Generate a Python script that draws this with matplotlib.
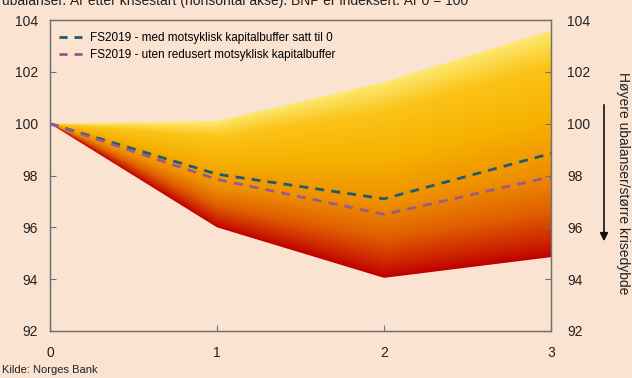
import numpy as np
import matplotlib.pyplot as plt
from matplotlib.colors import LinearSegmentedColormap

plt.rcParams['font.family'] = ['Liberation Sans', 'DejaVu Sans']

years = [0, 1, 2, 3]
fan_upper = [100.0, 100.1, 101.6, 103.6]
fan_lower = [100.0, 96.0, 94.05, 94.85]
cc_zero = [100.0, 98.05, 97.1, 98.85]
cc_kept = [100.0, 97.85, 96.5, 97.95]

bg = '#fbe3d2'
spine_col = '#707070'

fig = plt.figure(figsize=(6.32, 3.78), dpi=100, facecolor=bg)
ax = fig.add_axes([50/632, 1-331/378, 501/632, 311/378])
ax.set_facecolor(bg)

# band shading: yellow at top of fan, red at bottom
cmap = LinearSegmentedColormap.from_list('fan', [
    (0.0, '#c00000'), (0.06, '#cc2000'), (0.2, '#e05e00'),
    (0.38, '#ee9000'), (0.6, '#f6b000'), (0.85, '#fbc418'), (1.0, '#fde870')])
poly = ax.fill_between(years, fan_lower, fan_upper, color='none', lw=0)
gx = np.linspace(0, 3, 600)
gy = np.linspace(92, 104, 600)
up = np.interp(gx, years, fan_upper)
lo = np.interp(gx, years, fan_lower)
span = np.maximum(up - lo, 1e-6)
T = (gy[:, None] - lo[None, :]) / span[None, :]
T = np.clip(T, 0, 1)
im = ax.imshow(T, extent=[0, 3, 92, 104], origin='lower', cmap=cmap,
               aspect='auto', vmin=0, vmax=1, zorder=1)
im.set_clip_path(poly.get_paths()[0], transform=ax.transData)

ax.plot(years, cc_zero, color='#1d5c6e', lw=2, ls=(0, (3.2, 2.6)), zorder=3,
        label='FS2019 - med motsyklisk kapitalbuffer satt til 0')
ax.plot(years, cc_kept, color='#9a5a8e', lw=2, ls=(0, (3.2, 2.6)), zorder=3,
        label='FS2019 - uten redusert motsyklisk kapitalbuffer')

ax.set_xlim(0, 3)
ax.set_ylim(92, 104)
ax.set_xticks(years)
ax.set_yticks(range(92, 105, 2))
for s in ax.spines.values():
    s.set_color(spine_col)
    s.set_linewidth(1)
ax.tick_params(direction='in', length=4, color=spine_col, labelsize=10,
               labelcolor='#222222', top=False)
ax.tick_params(axis='x', pad=11)
ax.tick_params(axis='y', pad=8.5)

# right-hand axis with the same scale
ax2 = ax.twinx()
ax2.set_ylim(ax.get_ylim())
ax2.set_yticks(range(92, 105, 2))
ax2.tick_params(direction='in', length=4, color=spine_col, labelsize=10,
                labelcolor='#222222', pad=11.5)
for s in ax2.spines.values():
    s.set_color(spine_col)

leg = ax.legend(loc='upper left', frameon=False, fontsize=8.5,
                handlelength=1.95, handletextpad=0.65, borderaxespad=0.0,
                labelspacing=0.45, bbox_to_anchor=(0.009, 0.977))
for h in leg.get_lines():
    h.set_linestyle((0, (2.9, 2.5)))

fig.text(0.003, 1 - 4.5/378,
         'ubalanser. År etter krisestart (horisontal akse). BNP er indeksert. År 0 = 100',
         fontsize=10, color='#222222', va='baseline', ha='left')
fig.text(2/632, 1 - 373/378, 'Kilde: Norges Bank', fontsize=8,
         color='#222222', va='baseline', ha='left')
fig.text(623/632, 1 - 183/378, 'Høyere ubalanser/større krisedybde',
         rotation=-90, fontsize=10, color='#222222', va='center', ha='center')
fig.add_artist(plt.Annotation('', xy=(604/632, 1 - 244/378),
                              xytext=(604/632, 1 - 102/378),
                              xycoords='figure fraction',
                              arrowprops=dict(arrowstyle='-|>', color='#111111',
                                              lw=1.2, mutation_scale=12)))

fig.savefig('out.png', dpi=100, facecolor=bg)
